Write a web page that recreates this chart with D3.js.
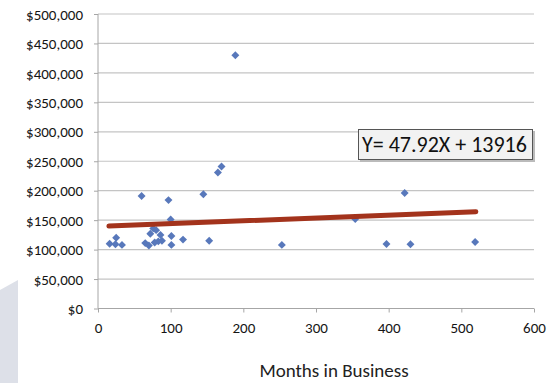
<!DOCTYPE html>
<html><head><meta charset="utf-8">
<script src="https://cdn.jsdelivr.net/npm/d3@7"></script>
<style>html,body{margin:0;padding:0;background:#fff;}svg{display:block;}</style>
</head><body>
<script>
const monthsInBusiness = [16, 25, 24, 33, 60, 65, 70, 72, 76, 80, 86, 83, 78, 88, 97, 100, 101, 101, 117, 145, 153, 165, 170, 189, 253, 354, 397, 422, 430, 519];
const salaries = [110000, 120000, 109000, 108000, 191000, 111000, 107000, 127000, 136000, 133000, 125000, 114000, 112000, 115000, 184000, 151000, 123000, 108000, 117000, 194000, 115000, 231000, 241000, 430000, 108000, 152000, 109500, 196000, 109000, 113000];
const trendX = [15, 520];
const trendY = [140000, 164200];
const xTicks = [0, 100, 200, 300, 400, 500, 600];
const yTicks = [0, 50000, 100000, 150000, 200000, 250000, 300000, 350000, 400000, 450000, 500000];
const xTitle = "Months in Business";
const equation = "Y= 47.92X + 13916";

const W = 548, H = 383;
const svg = d3.select("body").append("svg").attr("width", W).attr("height", H);
svg.append("rect").attr("width", W).attr("height", H).attr("fill", "#fff");
// decorative background shape
svg.append("path").attr("d", "M0,290 L18,280 L18,383 L0,383 Z").attr("fill", "#dde0e8");

const x = d3.scaleLinear().domain([0, 600]).range([98, 534]);
const y = d3.scaleLinear().domain([0, 500000]).range([308.5, 14]);
const font = "Carlito, 'Open Sans', sans-serif";

// gridlines
svg.append("g").selectAll("line").data(yTicks.filter(d => d > 0)).join("line")
  .attr("x1", 98).attr("x2", 534).attr("y1", d => y(d)).attr("y2", d => y(d))
  .attr("stroke", "#c4c4c4").attr("stroke-width", 1.2);

// y axis
const yAxis = d3.axisLeft(y).tickValues(yTicks).tickSize(4).tickPadding(11)
  .tickFormat(d => "$" + d3.format(",")(d));
const gy = svg.append("g").attr("transform", "translate(98,0)").call(yAxis);
gy.attr("font-family", null).attr("font-size", null);
gy.select(".domain").attr("stroke", "#a6a6a6").attr("d", "M0,14V308.5");
gy.selectAll(".tick line").attr("stroke", "#a6a6a6");
gy.selectAll("text").style("font-family", font).style("font-size", "15px").attr("fill", "#141414").attr("dy", "0.34em");

// x axis
const xAxis = d3.axisBottom(x).tickValues(xTicks).tickSize(4).tickPadding(10);
const gx = svg.append("g").attr("transform", "translate(0,308.5)").call(xAxis);
gx.attr("font-family", null).attr("font-size", null);
gx.select(".domain").attr("stroke", "#a6a6a6").attr("d", "M98,0H534");
gx.selectAll(".tick line").attr("stroke", "#a6a6a6");
gx.selectAll("text").style("font-family", font).style("font-size", "15px").attr("fill", "#141414");

// points
const diamond = d3.symbol().type(d3.symbolDiamond2).size(40);
svg.append("g").selectAll("path").data(monthsInBusiness.map((m, i) => [m, salaries[i]])).join("path")
  .attr("d", diamond)
  .attr("transform", d => `translate(${x(d[0])},${y(d[1])})`)
  .attr("fill", "#5878bb");

// trend line
svg.append("line")
  .attr("x1", x(trendX[0])).attr("y1", y(trendY[0]))
  .attr("x2", x(trendX[1])).attr("y2", y(trendY[1]))
  .attr("stroke", "#a3331c").attr("stroke-width", 5).attr("stroke-linecap", "round");

// equation box
svg.append("rect").attr("x", 360).attr("y", 131).attr("width", 175).attr("height", 31)
  .attr("fill", "#bbb");
svg.append("rect").attr("x", 358.5).attr("y", 129.5).attr("width", 174).attr("height", 30)
  .attr("fill", "#f2f2f2").attr("stroke", "#555").attr("stroke-width", 1);
svg.append("text").attr("x", 362).attr("y", 152).text(equation)
  .style("font-family", font).style("font-size", "22px").attr("fill", "#111");

// x title
svg.append("text").attr("x", 334).attr("y", 377).attr("text-anchor", "middle").text(xTitle)
  .style("font-family", font).style("font-size", "19px").attr("fill", "#222");
</script>
</body></html>
